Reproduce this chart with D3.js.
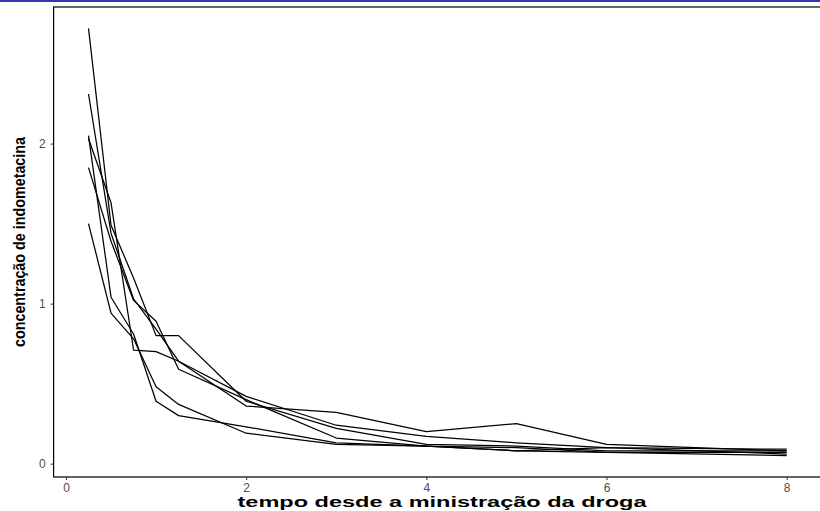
<!DOCTYPE html>
<html><head><meta charset="utf-8">
<script src="https://cdn.jsdelivr.net/npm/d3@7"></script>
<style>body{margin:0;background:#fff}svg{display:block}</style>
</head><body>
<script>
const times = [0.25, 0.5, 0.75, 1, 1.25, 2, 3, 4, 5, 6, 8];
const subject1 = [1.50, 0.94, 0.78, 0.48, 0.37, 0.19, 0.12, 0.11, 0.08, 0.07, 0.05];
const subject2 = [2.03, 1.63, 0.71, 0.70, 0.64, 0.36, 0.32, 0.20, 0.25, 0.12, 0.08];
const subject3 = [2.72, 1.49, 1.16, 0.80, 0.80, 0.39, 0.22, 0.12, 0.11, 0.08, 0.08];
const subject4 = [1.85, 1.39, 1.02, 0.89, 0.59, 0.40, 0.16, 0.11, 0.10, 0.07, 0.07];
const subject5 = [2.05, 1.04, 0.81, 0.39, 0.30, 0.23, 0.13, 0.11, 0.08, 0.10, 0.06];
const subject6 = [2.31, 1.44, 1.03, 0.84, 0.64, 0.42, 0.24, 0.17, 0.13, 0.10, 0.09];
const subjects = [subject1, subject2, subject3, subject4, subject5, subject6];
const xTicks = [0, 2, 4, 6, 8];
const yTicks = [0, 1, 2];
const xTitle = "tempo desde a ministração da droga";
const yTitle = "concentração de indometacina";

const W = 820, H = 511;
const svg = d3.select("body").append("svg").attr("width", W).attr("height", H);

svg.append("rect").attr("x", 0).attr("y", 0).attr("width", W).attr("height", 2).attr("fill", "#3535b0");

const pLeft = 53.6, pRight = 821.6, pTop = 7, pBottom = 477;
const x = d3.scaleLinear().domain([-0.1375, 8.3875]).range([pLeft, pRight]);
const y = d3.scaleLinear().domain([-0.0835, 2.8535]).range([pBottom, pTop]);

// panel border
svg.append("rect").attr("x", pLeft).attr("y", pTop).attr("width", pRight - pLeft).attr("height", pBottom - pTop)
  .attr("fill", "none").attr("stroke", "#000").attr("stroke-width", 1.2);

const line = d3.line().x((d, i) => x(times[i])).y(d => y(d));
svg.append("g").selectAll("path").data(subjects).join("path")
  .attr("d", line).attr("fill", "none").attr("stroke", "#000").attr("stroke-width", 1.25)
  .attr("stroke-linejoin", "round");

const tickFont = "Liberation Sans, Arial, sans-serif";
const xAxis = svg.append("g").attr("transform", `translate(0,${pBottom})`)
  .call(d3.axisBottom(x).tickValues(xTicks).tickSize(3).tickPadding(3).tickFormat(d3.format("d")));
xAxis.select(".domain").remove();
xAxis.selectAll("line").attr("stroke", "#333");
xAxis.selectAll("text").style("fill", "#4d4d4d").style("font-family", tickFont).style("font-size", "12px");

const yAxis = svg.append("g").attr("transform", `translate(${pLeft},0)`)
  .call(d3.axisLeft(y).tickValues(yTicks).tickSize(3).tickPadding(5).tickFormat(d3.format("d")));
yAxis.select(".domain").remove();
yAxis.selectAll("line").attr("stroke", "#333");
yAxis.selectAll("text").style("fill", "#4d4d4d").style("font-family", tickFont).style("font-size", "12px");

svg.append("text").attr("x", 442).attr("y", 507).attr("text-anchor", "middle")
  .style("font-family", "Liberation Sans, Arial, sans-serif").style("font-weight", "bold").style("font-size", "14px")
  .attr("textLength", 409).attr("lengthAdjust", "spacingAndGlyphs")
  .text(xTitle);

svg.append("text").attr("transform", `translate(25,242) rotate(-90)`).attr("text-anchor", "middle")
  .style("font-family", "Liberation Sans Narrow, Arial Narrow, Liberation Sans, sans-serif").style("font-weight", "bold").style("font-size", "16px")
  .attr("textLength", 210).attr("lengthAdjust", "spacingAndGlyphs")
  .text(yTitle);
</script>
</body></html>
